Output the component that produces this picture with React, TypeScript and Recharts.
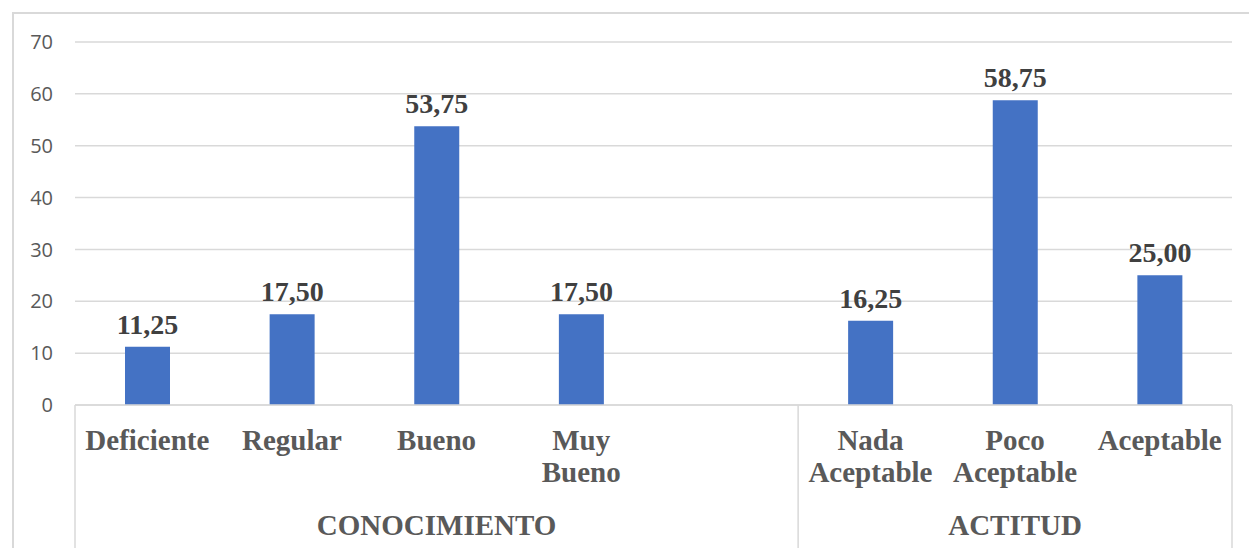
import { BarChart, Bar, XAxis, YAxis, CartesianGrid, LabelList } from 'recharts';

const categories = ['Deficiente', 'Regular', 'Bueno', 'Muy Bueno', '', 'Nada Aceptable', 'Poco Aceptable', 'Aceptable'];
const porcentajes = [11.25, 17.5, 53.75, 17.5, null, 16.25, 58.75, 25.0];
const groups = ['CONOCIMIENTO', 'ACTITUD'];
const groupSizes = [5, 3];
const yTicks = [0, 10, 20, 30, 40, 50, 60, 70];

const W = 1249;
const H = 548;
const margin = { top: 42, right: 17, bottom: 0, left: 0 };
const Y_AXIS_W = 75;
const X_AXIS_H = 143;
const band = (W - margin.left - margin.right - Y_AXIS_W) / categories.length;

const GRID = '#d9d9d9';
const serif = '"Liberation Serif", "Times New Roman", serif';

const data = categories.map((cat, i) => ({ cat, value: porcentajes[i] }));

// group start index -> group
const groupStarts: Record<number, { name: string; size: number }> = {};
let acc = 0;
groups.forEach((g, i) => {
  groupStarts[acc] = { name: g, size: groupSizes[i] };
  acc += groupSizes[i];
});

function CategoryTick(props: any) {
  const { x, y, payload, index } = props;
  const lines = String(payload.value).split(' ').filter(Boolean);
  const left = x - band / 2;
  const g = groupStarts[index];
  return (
    <g>
      <text
        x={x}
        y={y + 45}
        textAnchor="middle"
        fill="#595959"
        fontFamily={serif}
        fontWeight="bold"
        fontSize={29}
      >
        {lines.map((l, i) => (
          <tspan key={i} x={x} dy={i === 0 ? 0 : 32}>
            {l}
          </tspan>
        ))}
      </text>
      {g && (
        <>
          <line x1={left} x2={left} y1={y} y2={H} stroke={GRID} strokeWidth={1.5} />
          <text
            x={left + (g.size * band) / 2}
            y={y + 130}
            textAnchor="middle"
            fill="#595959"
            fontFamily={serif}
            fontWeight="bold"
            fontSize={29}
          >
            {g.name}
          </text>
        </>
      )}
      {index === categories.length - 1 && (
        <line x1={x + band / 2} x2={x + band / 2} y1={y} y2={H} stroke={GRID} strokeWidth={1.5} />
      )}
    </g>
  );
}

function ValueLabel(props: any) {
  const { x, y, width, value } = props;
  if (value === null || value === undefined) return null;
  return (
    <text
      x={x + width / 2}
      y={y - 13}
      textAnchor="middle"
      fill="#404040"
      fontFamily={serif}
      fontWeight="bold"
      fontSize={28}
    >
      {Number(value).toFixed(2).replace('.', ',')}
    </text>
  );
}

export default function App() {
  return (
    <div style={{ position: 'absolute', left: 0, top: 0, width: W, height: H, background: '#fff', overflow: 'hidden' }}>
      <div
        style={{
          position: 'absolute',
          left: 12,
          top: 12,
          width: W,
          height: H,
          borderTop: `2px solid ${GRID}`,
          borderLeft: `2px solid ${GRID}`,
        }}
      />
      <div style={{ position: 'absolute', left: 0, top: 0 }}>
        <BarChart width={W} height={H} data={data} margin={margin}>
          <CartesianGrid vertical={false} stroke={GRID} strokeWidth={1.5} />
          <YAxis
            width={Y_AXIS_W}
            domain={[0, 70]}
            ticks={yTicks}
            interval={0}
            axisLine={false}
            tickLine={false}
            tickSize={0}
            tickMargin={22}
            tick={{ fill: '#595959', fontSize: 20, fontFamily: '"Open Sans", sans-serif' }}
          />
          <XAxis
            dataKey="cat"
            height={X_AXIS_H}
            interval={0}
            axisLine={{ stroke: GRID, strokeWidth: 1.5 }}
            tickLine={false}
            tickSize={0}
            tickMargin={0}
            tick={<CategoryTick />}
          />
          <Bar dataKey="value" fill="#4472C4" barSize={45} isAnimationActive={false}>
            <LabelList dataKey="value" content={<ValueLabel />} />
          </Bar>
        </BarChart>
      </div>
    </div>
  );
}
